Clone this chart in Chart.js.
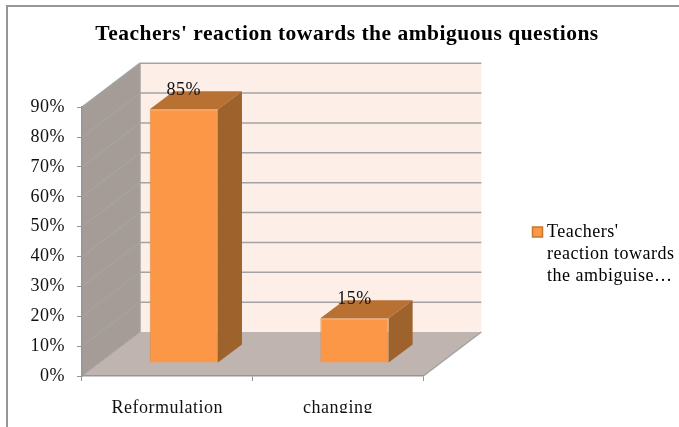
<!DOCTYPE html>
<html><head><meta charset="utf-8">
<style>html,body{margin:0;padding:0;background:#fff}#w{width:679px;height:427px}canvas{display:block}</style>
<script src="https://cdn.jsdelivr.net/npm/chart.js@4"></script></head>
<body><div id="w"><canvas id="c"></canvas></div>
<script>
const chartTitle = "Teachers' reaction towards the ambiguous questions";
const categories = ["Reformulation", "changing"];
const seriesValues = [85, 15];
const seriesLegend = ["Teachers'", "reaction towards", "the ambiguise\u2026"];
const yMax = 90, yStep = 10;
const serif = "'Liberation Serif','Times New Roman',serif";
// oblique projection of the 3D look
const DEPTH = {x: 58, y: 44};
const BAR = {x: 16.5, y: 13, dx: 24, dy: 18};
const COL = {front:'#fb9746', edge:'#d98a48', top:'#b97033', side:'#9e622d',
  back:'#fdefe8', wall:'#a59c97', floor:'#bfb4b0', grid:'#a3a3a3', frame:'#969696', swatchEdge:'#c5772f'};

function poly(ctx, pts, fill){
  ctx.beginPath(); pts.forEach((p,i)=> i?ctx.lineTo(p[0],p[1]):ctx.moveTo(p[0],p[1]));
  ctx.closePath(); if(fill){ctx.fillStyle=fill;ctx.fill();}
}
function line(ctx,x1,y1,x2,y2,col,w){
  ctx.beginPath();ctx.moveTo(x1,y1);ctx.lineTo(x2,y2);ctx.strokeStyle=col;ctx.lineWidth=w||1.5;ctx.stroke();
}
const room = {
  id:'room',
  beforeDraw(chart){
    const {ctx, chartArea:a, scales:{y}} = chart;
    ctx.letterSpacing='0.5px';
    const dx=DEPTH.x, dy=DEPTH.y;
    ctx.save();
    ctx.strokeStyle=COL.frame; ctx.lineWidth=2;
    ctx.beginPath();ctx.moveTo(7,427);ctx.lineTo(7,6);ctx.lineTo(679,6);ctx.stroke();
    poly(ctx,[[a.left+dx,a.top-dy],[a.right+dx,a.top-dy],[a.right+dx,a.bottom-dy],[a.left+dx,a.bottom-dy]],COL.back);
    poly(ctx,[[a.left,a.top],[a.left+dx,a.top-dy],[a.left+dx,a.bottom-dy],[a.left,a.bottom]],COL.wall);
    poly(ctx,[[a.left,a.bottom],[a.left+dx,a.bottom-dy],[a.right+dx,a.bottom-dy],[a.right,a.bottom]],COL.floor);
    y.ticks.forEach(t=>{
      if(t.value===0) return;
      const py=y.getPixelForValue(t.value);
      line(ctx,a.left,py,a.left+dx,py-dy,COL.grid);
      line(ctx,a.left+dx,py-dy,a.right+dx,py-dy,COL.grid);
    });
    line(ctx,a.left+dx,a.top-dy,a.left+dx,a.bottom-dy,COL.grid);
    line(ctx,a.left,a.bottom,a.left+dx,a.bottom-dy,COL.grid,1);
    line(ctx,a.right,a.bottom,a.right+dx,a.bottom-dy,COL.grid);
    ctx.restore();
  },
  beforeDatasetDraw(chart,args){
    const ctx=chart.ctx;
    ctx.save();
    ctx.translate(BAR.x,-BAR.y);
    args.meta.data.forEach(b=>{
      const {x,y,base,width}=b.getProps(['x','y','base','width'],true);
      const l=x-width/2,r=x+width/2;
      poly(ctx,[[l,y],[l+BAR.dx,y-BAR.dy],[r+BAR.dx,y-BAR.dy],[r,y]],COL.top);
      poly(ctx,[[r,y],[r+BAR.dx,y-BAR.dy],[r+BAR.dx,base-BAR.dy],[r,base]],COL.side);
    });
  },
  afterDatasetDraw(chart){ chart.ctx.restore(); },
  afterDatasetsDraw(chart){
    const ctx=chart.ctx;
    ctx.save();
    ctx.font="18px "+serif; ctx.fillStyle='#111'; ctx.textAlign='center'; ctx.textBaseline='middle';
    chart.getDatasetMeta(0).data.forEach((b,i)=>{
      const {x,y}=b.getProps(['x','y'],true);
      ctx.fillText(seriesValues[i]+'%',x+BAR.x,y-BAR.y-18.5);
    });
    ctx.restore();
  },
  afterDraw(chart){
    const ctx=chart.ctx, a=chart.chartArea, L=chart.legend;
    ctx.save();
    // the reference cuts the category labels off just under the baseline
    ctx.fillStyle='#fff'; ctx.fillRect(a.left-30,413,a.right-a.left+60,14);
    // legend swatch
    const hb=L.legendHitBoxes[0];
    ctx.fillStyle=COL.front; ctx.strokeStyle=COL.swatchEdge; ctx.lineWidth=1.5;
    ctx.fillRect(L.left+5.5,hb.top+4,10,10); ctx.strokeRect(L.left+5.5,hb.top+4,10,10);
    ctx.restore();
  }
};
const legendSpacer = {
  id:'legendSpacer',
  beforeLayout(chart){
    if(chart._spacer) return;
    chart._spacer={position:'right',weight:2000,fullSize:false,options:{},width:145,height:0,left:0,top:0,right:0,bottom:0,
      isHorizontal(){return false;},update(){this.height=0;},draw(){}};
    Chart.layouts.addBox(chart,chart._spacer);
  },
  afterLayout(chart){
    const L=chart.legend; const h=L.height;
    L.left=527; L.right=679; L.width=152; L.top=218; L.bottom=218+h;
    L.adjustHitBoxes&&L.adjustHitBoxes();
  }
};
new Chart(document.getElementById('c'),{
  type:'bar',
  data:{labels:categories,datasets:[{label:seriesLegend.join(' '),data:seriesValues,
    backgroundColor:COL.front,borderColor:COL.edge,borderWidth:1,
    barPercentage:0.5,categoryPercentage:0.8,clip:false}]},
  plugins:[legendSpacer,room],
  options:{
    responsive:true,maintainAspectRatio:false,animation:false,
    layout:{padding:{left:15,right:0,top:0,bottom:0}},
    plugins:{
      tooltip:{enabled:false},
      title:{display:true,text:chartTitle,color:'#000',font:{family:serif,size:21.5,weight:'bold'},padding:{top:22,bottom:59.4}},
      legend:{display:true,position:'right',align:'start',
        labels:{boxWidth:6,boxHeight:6,color:'#111',font:{family:serif,size:18,lineHeight:1.22},padding:5,
          generateLabels(){return [{text:seriesLegend,fillStyle:'rgba(0,0,0,0)',strokeStyle:'rgba(0,0,0,0)',lineWidth:0,datasetIndex:0}];}}}
    },
    scales:{
      x:{grid:{drawOnChartArea:false,tickLength:5,color:COL.frame,offset:true},border:{color:COL.frame,width:1.5},
        ticks:{color:'#111',font:{family:serif,size:18},padding:16,maxRotation:0},
        afterFit(s){s.height=51;}},
      y:{min:0,max:yMax,grid:{drawOnChartArea:false,tickLength:5,color:COL.frame},border:{color:COL.frame,width:1.5},
        ticks:{stepSize:yStep,color:'#111',font:{family:serif,size:18},padding:12,callback:v=>v+'%'},
        afterFit(s){s.width=67;}}
    }
  }
});
</script></body></html>
